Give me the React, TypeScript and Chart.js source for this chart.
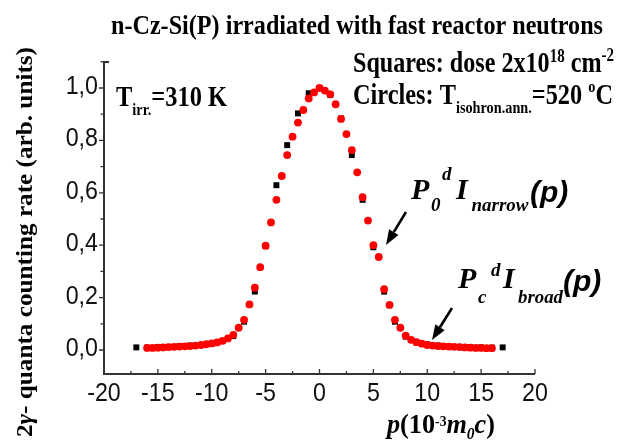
import React, { useEffect, useRef } from "react";
import { Chart, registerables } from "chart.js";

Chart.register(...registerables);

// ---- data ----
const circleX = [
  -16, -15.5, -15, -14.5, -14, -13.5, -13, -12.5, -12, -11.5, -11, -10.5, -10, -9.5, -9, -8.5,
  -8, -7.5, -7, -6.5, -6, -5.5, -5, -4.5, -4, -3.5, -3, -2.5, -2, -1.5, -1, -0.5,
  0,
  0.5, 1, 1.5, 2, 2.5, 3, 3.5, 4, 4.5, 5, 5.5, 6, 6.5, 7, 7.5, 8,
  8.5, 9, 9.5, 10, 10.5, 11, 11.5, 12, 12.5, 13, 13.5, 14, 14.5, 15, 15.5, 16,
];
const circleY = [
  0.008, 0.008, 0.009, 0.010, 0.011, 0.012, 0.013, 0.014, 0.015, 0.017, 0.019, 0.022, 0.025, 0.029, 0.035, 0.044,
  0.058, 0.085, 0.115, 0.174, 0.238, 0.316, 0.398, 0.487, 0.573, 0.664, 0.744, 0.814, 0.868, 0.916, 0.960, 0.983,
  1.0,
  0.990, 0.976, 0.938, 0.882, 0.824, 0.763, 0.678, 0.583, 0.494, 0.400, 0.355, 0.232, 0.172, 0.115, 0.085, 0.055,
  0.039, 0.030, 0.024, 0.019, 0.017, 0.015, 0.014, 0.013, 0.012, 0.011, 0.010, 0.009, 0.008, 0.008, 0.007, 0.007,
];
const squareX = [
  -17, -16, -15, -14, -13, -12, -11, -10, -9, -8, -7, -6, -5, -4, -3, -2, -1,
  0,
  1, 2, 3, 4, 5, 6, 7, 8, 9, 10, 11, 12, 13, 14, 15, 16, 17,
];
const squareY = [
  0.010, 0.009, 0.011, 0.012, 0.015, 0.017, 0.019, 0.024, 0.034, 0.053, 0.108, 0.223, 0.396, 0.629, 0.782, 0.903, 0.980,
  1.0,
  0.973, 0.884, 0.744, 0.573, 0.392, 0.223, 0.108, 0.051, 0.030, 0.021, 0.017, 0.014, 0.012, 0.011, 0.010, 0.009, 0.010,
];
const xTickValues = [-20, -15, -10, -5, 0, 5, 10, 15, 20];
const xTickLabels = ["-20", "-15", "-10", "-5", "0", "5", "10", "15", "20"];
const xMinorValues = [-17.5, -12.5, -7.5, -2.5, 2.5, 7.5, 12.5, 17.5];
const yTickValues = [0, 0.2, 0.4, 0.6, 0.8, 1.0];
const yTickLabels = ["0,0", "0,2", "0,4", "0,6", "0,8", "1,0"];
const yMinorValues = [0.1, 0.3, 0.5, 0.7, 0.9, 1.1];

const X_MIN = -20;
const X_MAX = 20;
const Y_MIN = -0.0916;
const Y_MAX = 1.103;

const SERIF = "'Liberation Serif', 'Times New Roman', serif";
const SANS = "'Liberation Sans', Arial, sans-serif";

type Part = { t: string; font: string; dy?: number };

function drawRuns(ctx: CanvasRenderingContext2D, parts: Part[], x: number, y: number, width?: number) {
  let total = 0;
  for (const p of parts) {
    ctx.font = p.font;
    total += ctx.measureText(p.t).width;
  }
  const sx = width ? width / total : 1;
  ctx.save();
  ctx.translate(x, y);
  ctx.scale(sx, 1);
  ctx.textAlign = "left";
  ctx.textBaseline = "alphabetic";
  let cx = 0;
  for (const p of parts) {
    ctx.font = p.font;
    ctx.fillText(p.t, cx, p.dy || 0);
    cx += ctx.measureText(p.t).width;
  }
  ctx.restore();
}

function piece(ctx: CanvasRenderingContext2D, t: string, font: string, x: number, y: number, w?: number) {
  ctx.font = font;
  ctx.textAlign = "left";
  ctx.textBaseline = "alphabetic";
  if (w) ctx.fillText(t, x, y, w);
  else ctx.fillText(t, x, y);
}

function arrow(ctx: CanvasRenderingContext2D, x1: number, y1: number, x2: number, y2: number) {
  const ang = Math.atan2(y2 - y1, x2 - x1);
  const len = 15;
  const hw = 5.5;
  const bx = x2 - len * Math.cos(ang);
  const by = y2 - len * Math.sin(ang);
  ctx.save();
  ctx.strokeStyle = "#000";
  ctx.fillStyle = "#000";
  ctx.lineWidth = 2.6;
  ctx.beginPath();
  ctx.moveTo(x1, y1);
  ctx.lineTo(bx, by);
  ctx.stroke();
  ctx.beginPath();
  ctx.moveTo(x2, y2);
  ctx.lineTo(bx + hw * Math.sin(ang), by - hw * Math.cos(ang));
  ctx.lineTo(bx - hw * Math.sin(ang), by + hw * Math.cos(ang));
  ctx.closePath();
  ctx.fill();
  ctx.restore();
}

const axesPlugin = {
  id: "axesPlugin",
  beforeDatasetsDraw(chart: any) {
    const ctx: CanvasRenderingContext2D = chart.ctx;
    const xs = chart.scales.x;
    const ys = chart.scales.y;
    const { left, right, top, bottom } = chart.chartArea;
    ctx.save();
    ctx.strokeStyle = "#333";
    ctx.lineWidth = 2;
    ctx.beginPath();
    ctx.moveTo(left + 5, top + 1);
    ctx.lineTo(left, top + 1);
    ctx.lineTo(left, bottom);
    ctx.lineTo(right, bottom);
    ctx.stroke();

    ctx.lineWidth = 1.3;
    ctx.beginPath();
    for (const v of xTickValues) {
      const px = xs.getPixelForValue(v);
      ctx.moveTo(px, bottom);
      ctx.lineTo(px, bottom - 5);
    }
    for (const v of xMinorValues) {
      const px = xs.getPixelForValue(v);
      ctx.moveTo(px, bottom);
      ctx.lineTo(px, bottom - 3);
    }
    for (const v of yTickValues) {
      const py = ys.getPixelForValue(v);
      ctx.moveTo(left, py);
      ctx.lineTo(left - 5, py);
    }
    for (const v of yMinorValues) {
      const py = ys.getPixelForValue(v);
      ctx.moveTo(left, py);
      ctx.lineTo(left - 3.5, py);
    }
    ctx.stroke();

    ctx.fillStyle = "#111";
    ctx.font = `25px ${SANS}`;
    const sx = 0.93;
    xTickValues.forEach((v, i) => {
      const px = xs.getPixelForValue(v);
      ctx.save();
      ctx.translate(px, 401);
      ctx.scale(sx, 1);
      ctx.textAlign = "center";
      ctx.textBaseline = "alphabetic";
      ctx.fillText(xTickLabels[i], 0, 0);
      ctx.restore();
    });
    yTickValues.forEach((v, i) => {
      const py = ys.getPixelForValue(v);
      ctx.save();
      ctx.translate(left - 6, py + 6);
      ctx.scale(sx, 1);
      ctx.textAlign = "right";
      ctx.textBaseline = "alphabetic";
      ctx.fillText(yTickLabels[i], 0, 0);
      ctx.restore();
    });
    ctx.restore();
  },
  afterDatasetsDraw(chart: any) {
    const ctx: CanvasRenderingContext2D = chart.ctx;
    ctx.save();
    ctx.fillStyle = "#000";
    const B = (s: number) => `bold ${s}px ${SERIF}`;
    const BI = (s: number) => `italic bold ${s}px ${SERIF}`;

    // title
    drawRuns(ctx, [{ t: "n-Cz-Si(P) irradiated with fast reactor neutrons", font: B(27) }], 111, 34, 492);

    // Squares line
    drawRuns(
      ctx,
      [
        { t: "Squares: dose 2x10", font: B(29) },
        { t: "18", font: B(18), dy: -10 },
        { t: " cm", font: B(29) },
        { t: "-2", font: B(18), dy: -11 },
      ],
      353,
      72,
      261
    );
    // Circles line
    drawRuns(
      ctx,
      [
        { t: "Circles: T", font: B(29) },
        { t: "isohron.ann.", font: B(17), dy: 9 },
        { t: "=520 ", font: B(29) },
        { t: "o", font: B(17), dy: -12 },
        { t: "C", font: B(29) },
      ],
      353,
      104,
      260
    );
    // T_irr
    drawRuns(
      ctx,
      [
        { t: "T", font: B(29) },
        { t: "irr.", font: B(17), dy: 9 },
        { t: "=310 K", font: B(29) },
      ],
      116,
      106,
      111
    );

    // y-axis title
    ctx.save();
    ctx.translate(32, 437);
    ctx.rotate(-Math.PI / 2);
    drawRuns(
      ctx,
      [
        { t: "2", font: B(24) },
        { t: "\u03B3", font: BI(24) },
        { t: "- quanta counting rate (arb. units)", font: B(24) },
      ],
      0,
      0,
      390
    );
    ctx.restore();

    // x-axis title
    drawRuns(
      ctx,
      [
        { t: "p", font: BI(27) },
        { t: "(10", font: B(27) },
        { t: "-3", font: B(14), dy: -7 },
        { t: "m", font: BI(27) },
        { t: "0", font: BI(16), dy: 6 },
        { t: "c", font: BI(27) },
        { t: ")", font: B(27) },
      ],
      387,
      433,
      108
    );

    // annotation 1: P0^d I_narrow(p)
    piece(ctx, "P", BI(30), 411, 199);
    piece(ctx, "0", BI(19), 431, 211);
    piece(ctx, "d", BI(19), 442, 180);
    piece(ctx, "I", BI(30), 456, 199);
    piece(ctx, "narrow", BI(19), 471.5, 211, 58);
    piece(ctx, "(p)", `italic bold 30px ${SANS}`, 530, 202, 40);

    // annotation 2: Pc^d I_broad(p)
    piece(ctx, "P", BI(30), 458, 288);
    piece(ctx, "c", BI(19), 478, 303);
    piece(ctx, "d", BI(19), 491, 276);
    piece(ctx, "I", BI(30), 503, 288);
    piece(ctx, "broad", BI(19), 518, 302.5, 45);
    piece(ctx, "(p)", `italic bold 30px ${SANS}`, 563, 291, 40);

    arrow(ctx, 406, 212, 386, 245);
    arrow(ctx, 452, 308, 432, 340);
    ctx.restore();
  },
};

export default function App() {
  const ref = useRef<HTMLCanvasElement>(null);
  useEffect(() => {
    document.body.style.margin = "0";
    const canvas = ref.current!;
    const chart = new Chart(canvas, {
      type: "scatter",
      data: {
        datasets: [
          {
            label: "Circles",
            data: circleX.map((x, i) => ({ x, y: circleY[i] })),
            pointStyle: "circle",
            pointRadius: 3.9,
            backgroundColor: "#ff0000",
            borderColor: "#ff0000",
            borderWidth: 0,
            order: 0,
            clip: false,
          } as any,
          {
            label: "Squares",
            data: squareX.map((x, i) => ({ x, y: squareY[i] })),
            pointStyle: "rect",
            pointRadius: 4.2,
            backgroundColor: "#000000",
            borderColor: "#000000",
            borderWidth: 0,
            order: 1,
            clip: false,
          } as any,
        ],
      },
      options: {
        responsive: false,
        animation: false,
        events: [],
        layout: { padding: { left: 104, top: 61, right: 82, bottom: 69 } },
        scales: {
          x: { type: "linear", min: X_MIN, max: X_MAX, display: false },
          y: { type: "linear", min: Y_MIN, max: Y_MAX, display: false },
        },
        plugins: { legend: { display: false }, tooltip: { enabled: false }, title: { display: false } },
      },
      plugins: [axesPlugin],
    });
    return () => chart.destroy();
  }, []);
  return (
    <div style={{ width: 617, height: 443, background: "#fff" }}>
      <canvas ref={ref} width={617} height={443} style={{ display: "block" }} />
    </div>
  );
}
